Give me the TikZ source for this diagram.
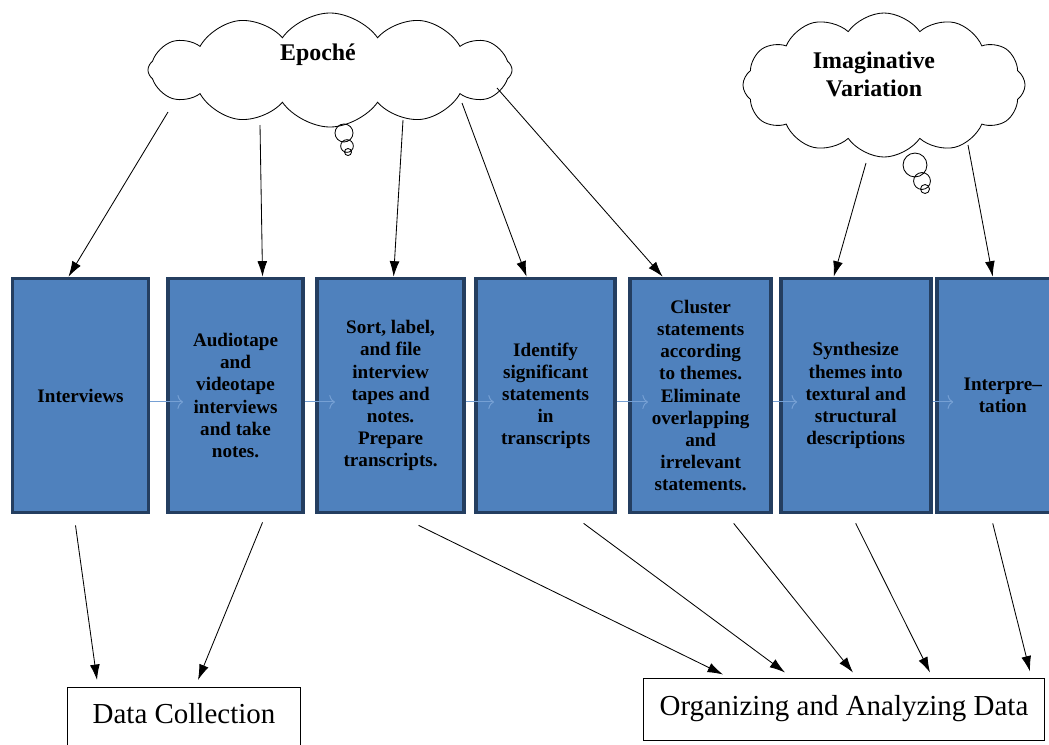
\documentclass[tikz,border=0pt]{standalone}
\usepackage{fontspec}
\setmainfont{Liberation Serif}
\usetikzlibrary{shapes,arrows,arrows.meta,calc,positioning}
\definecolor{boxfill}{RGB}{79,129,189}
\definecolor{boxedge}{RGB}{36,62,96}
\definecolor{flowblue}{RGB}{118,160,212}
\newcommand{\blockfont}{\fontsize{13.6}{15.7}\selectfont\bfseries}
\newcommand{\thoughtfont}{\fontsize{17}{19.8}\selectfont\bfseries}
\tikzstyle{line} = [draw, -{Latex[length=11pt,width=7pt]}, line width=0.6pt]
\tikzstyle{flow} = [draw=flowblue, -{To[length=4pt,width=10pt]}, line width=0.7pt]
\tikzstyle{block} = [draw=boxedge, fill=boxfill, line width=2.6pt, rectangle, text centered, align=center, minimum height=5.85cm, font=\blockfont]
\tikzstyle{thought} = [draw, cloud, cloud puffs=12, cloud puff arc=110, line width=0.6pt]
\tikzstyle{phase} = [draw, rectangle, line width=0.7pt, font=\fontsize{20.6}{24}\selectfont]

\begin{document}
\begin{tikzpicture}[x=0.025cm, y=-0.025cm, node distance=3.875cm, auto]
        \useasboundingbox (0,0) rectangle (1049,744);
        \clip (0,0) rectangle (1049,744);
        % thought clouds
        \node[thought, minimum width=9.1cm, minimum height=2.85cm, label={[font=\thoughtfont, xshift=-0.3cm, yshift=0.375cm]center:Epoché}] (epoche) at (330,70) {};
        \node[thought, minimum width=7.05cm, minimum height=3.6cm, label={[font=\thoughtfont, align=center, xshift=-0.25cm, yshift=0.275cm]center:Imaginative\\Variation}] (variation) at (884,85) {};
        \draw[line width=0.6pt] (344,133) circle (6.4pt) (347,146) circle (4.5pt) (348,152) circle (2.5pt);
        \draw[line width=0.6pt] (915,165) circle (8.5pt) (922,181) circle (6pt) (925,189) circle (3.2pt);
        % steps
        \node[block, minimum width=3.4cm] (interviews) at (80.5,395.5) {Interviews};
        \node[block, minimum width=3.375cm, right of=interviews] (record) {Audiotape\\and\\videotape\\interviews\\and take\\notes.};
        \node[block, minimum width=3.675cm, right of=record] (sort) {Sort, label,\\and file\\interview\\tapes and\\notes.\\Prepare\\transcripts.};
        \node[block, minimum width=3.475cm, right of=sort] (identify) {Identify\\significant\\statements\\in\\transcripts};
        \node[block, minimum width=3.525cm, right of=identify] (cluster) {Cluster\\statements\\according\\to themes.\\Eliminate\\overlapping\\and\\irrelevant\\statements.};
        \node[block, minimum width=3.75cm, right of=cluster] (synth) {Synthesize\\themes into\\textural and\\structural\\descriptions};
        \node[block, minimum width=3.3cm, right of=synth, xshift=-0.2cm] (interp) {Interpre–\\tation};
        % phases
        \node[phase, anchor=north, minimum width=5.825cm, inner ysep=11pt, text depth=40pt] (collect) at (184,687) {Data Collection};
        \node[phase, minimum width=10.03cm, minimum height=1.55cm] (analyze) at (844,709) {Organizing and Analyzing Data};
        % step to step
        \path[flow] ([yshift=-4.6pt]interviews.east) -- ([yshift=-4.6pt, xshift=12pt]record.west);
        \path[flow] ([yshift=-4.6pt]record.east) -- ([yshift=-4.6pt, xshift=14pt]sort.west);
        \path[flow] ([yshift=-4.6pt]sort.east) -- ([yshift=-4.6pt, xshift=14pt]identify.west);
        \path[flow] ([yshift=-4.6pt]identify.east) -- ([yshift=-4.6pt, xshift=14pt]cluster.west);
        \path[flow] ([yshift=-4.6pt]cluster.east) -- ([yshift=-4.6pt, xshift=13pt]synth.west);
        \path[flow] ([yshift=-4.6pt]synth.east) -- ([yshift=-4.6pt, xshift=13pt]interp.west);
        % clouds to steps
        \path[line] ($(epoche)+(-162,42)$) -- ($(interviews.north)+(-12,0)$);
        \path[line] ($(epoche)+(-70,55)$) -- ($(record.north)+(27,0)$);
        \path[line] ($(epoche)+(73,50)$) -- ($(sort.north)+(3,0)$);
        \path[line] ($(epoche)+(132,33)$) -- ($(identify.north)+(-19,0)$);
        \path[line] ($(epoche)+(167,18)$) -- ($(cluster.north)+(-38,0)$);
        \path[line] ($(variation)+(-18,78)$) -- ($(synth.north)+(-22,0)$);
        \path[line] ($(variation)+(84,60)$) -- ($(interp.north)+(-10,0)$);
        % steps to phases
        \path[line] ($(interviews.south)+(-5,11)$) -- ($(collect.north)+(-87,-7)$);
        \path[line] ($(record.south)+(27,8)$) -- ($(collect.north)+(14,-7)$);
        \path[line] ($(sort.south)+(28,11)$) -- ($(analyze.north)+(-121,-3)$);
        \path[line] ($(identify.south)+(38,9)$) -- ($(analyze.north)+(-59,-5)$);
        \path[line] ($(cluster.south)+(33,9)$) -- ($(analyze.north)+(9,-5)$);
        \path[line] ($(synth.south)+(0,9)$) -- ($(analyze.north)+(86,-5)$);
        \path[line] ($(interp.south)+(-10,9)$) -- ($(analyze.north)+(186,-6)$);
    \end{tikzpicture}
\end{document}
